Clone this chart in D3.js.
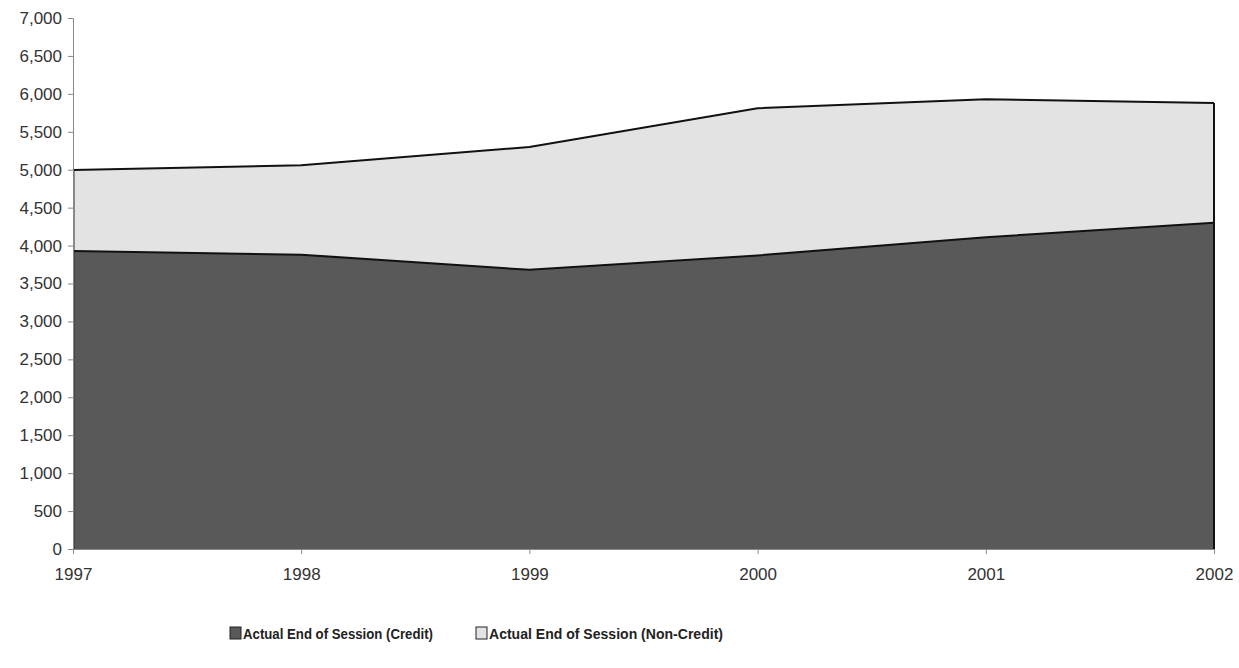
<!DOCTYPE html>
<html>
<head>
<meta charset="utf-8">
<script src="https://cdn.jsdelivr.net/npm/d3@7/dist/d3.min.js"></script>
<style>
  html, body { margin: 0; padding: 0; background: #fff; }
  svg { display: block; font-family: "Liberation Sans", Arial, sans-serif; }
</style>
</head>
<body>
<svg id="chart" width="1239" height="668"></svg>
<script>
const years = [1997, 1998, 1999, 2000, 2001, 2002];
const credit = [3930, 3880, 3680, 3870, 4110, 4300];
const nonCredit = [1065, 1180, 1620, 1940, 1820, 1580];
const yTicks = [0, 500, 1000, 1500, 2000, 2500, 3000, 3500, 4000, 4500, 5000, 5500, 6000, 6500, 7000];
const seriesNames = ["Actual End of Session (Credit)", "Actual End of Session (Non-Credit)"];
const seriesColors = ["#595959", "#e3e3e3"];

const svg = d3.select("#chart");
const m = { left: 73, right: 25, top: 18, bottom: 119 };
const W = 1239, H = 668;

const x = d3.scaleLinear().domain([1997, 2002]).range([m.left, W - m.right]);
const y = d3.scaleLinear().domain([0, 7000]).range([H - m.bottom, m.top]);

const rows = years.map((yr, i) => ({ year: yr, credit: credit[i], nonCredit: nonCredit[i] }));
const stack = d3.stack().keys(["credit", "nonCredit"]);
const layers = stack(rows);

const area = d3.area()
  .x(d => x(d.data.year))
  .y0(d => y(d[0]))
  .y1(d => y(d[1]));
const topLine = d3.line()
  .x(d => x(d.data.year))
  .y(d => y(d[1]));

layers.forEach((layer, i) => {
  svg.append("path").datum(layer)
    .attr("d", area)
    .attr("fill", seriesColors[i])
    .attr("stroke", "none");
});
layers.forEach((layer, i) => {
  svg.append("path").datum(layer)
    .attr("d", topLine)
    .attr("fill", "none")
    .attr("stroke", "#111")
    .attr("stroke-width", 2);
});
// right edge line
const last = layers[1][layers[1].length - 1];
svg.append("line")
  .attr("x1", x(2002)).attr("x2", x(2002))
  .attr("y1", y(0)).attr("y2", y(last[1]))
  .attr("stroke", "#111").attr("stroke-width", 2);
// left edge
svg.append("line")
  .attr("x1", x(1997) + 1).attr("x2", x(1997) + 1)
  .attr("y1", y(0)).attr("y2", y(layers[1][0][1]))
  .attr("stroke", "#333").attr("stroke-width", 1);

// Y axis
const yAxis = d3.axisLeft(y).tickValues(yTicks).tickSize(5).tickPadding(6)
  .tickFormat(d3.format(","));
const gy = svg.append("g").attr("transform", `translate(${m.left},0)`).call(yAxis);
gy.select(".domain").attr("stroke", "#888");
gy.selectAll(".tick line").attr("stroke", "#888");
gy.selectAll("text").attr("font-size", 17).attr("fill", "#333")
  .attr("font-family", "'Liberation Sans', Arial, sans-serif");

// X axis
const xAxis = d3.axisBottom(x).tickValues(years).tickSize(5).tickPadding(14)
  .tickFormat(d3.format("d"));
const gx = svg.append("g").attr("transform", `translate(0,${y(0)})`).call(xAxis);
gx.select(".domain").attr("stroke", "#888");
gx.selectAll(".tick line").attr("stroke", "#888");
gx.selectAll("text").attr("font-size", 17).attr("fill", "#333")
  .attr("font-family", "'Liberation Sans', Arial, sans-serif");

// Legend
const legendX = [230, 476];
const legendLen = [190, 234];
const legendY = 634;
seriesNames.forEach((name, i) => {
  const g = svg.append("g").attr("transform", `translate(${legendX[i]},${legendY})`);
  g.append("rect").attr("x", 0).attr("y", -7).attr("width", 11).attr("height", 12)
    .attr("fill", seriesColors[i]).attr("stroke", "#222").attr("stroke-width", 1);
  g.append("text").attr("x", 13).attr("y", 0).attr("dy", "0.35em")
    .attr("font-size", 15).attr("font-weight", "bold").attr("fill", "#222")
    .attr("textLength", legendLen[i]).attr("lengthAdjust", "spacingAndGlyphs")
    .text(name);
});
</script>
</body>
</html>
